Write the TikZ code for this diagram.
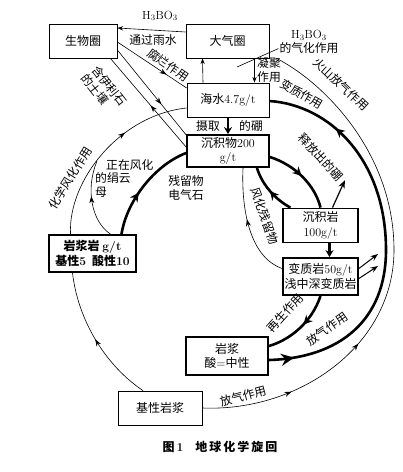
\documentclass[tikz,border=0pt]{standalone}
\usepackage{fontspec}
\newfontfamily\cjk{Noto Sans CJK SC}
\newcommand\lm[1]{{\rmfamily #1}}
\usetikzlibrary{arrows.meta,decorations.markings,calc}
\tikzset{
  >={Stealth},
  box/.style={draw, line width=0.8pt, align=center, font=\cjk\fontsize{12}{14.5}\selectfont,
              minimum width=#1, minimum height=34pt, inner sep=1pt},
  box/.default=80pt,
  rock/.style={box=#1, line width=1.8pt},
  flow/.style={line width=0.6pt},
  heavy/.style={line width=2.6pt},
  midarrow/.style={postaction={decorate, decoration={markings,
              mark=at position #1 with {\arrow{Stealth[length=7pt,width=5pt]}}}}},
  heavyarrow/.style={postaction={decorate, decoration={markings,
              mark=at position #1 with {\arrow{Stealth[length=9pt,width=9pt]}}}}},
  bigarrow/.style={postaction={decorate, decoration={markings,
              mark=at position #1 with {\arrow{Stealth[length=13pt,width=12pt]}}}}},
  lab/.style={font=\cjk\fontsize{11.8}{13.5}\selectfont, inner sep=1pt, align=center}
}
\begin{document}
\begin{tikzpicture}[x=1pt, y=1pt]
\useasboundingbox (0,0) rectangle (403,-472);
% top row: spheres
\node[box=68pt] (bio) at (83,-41) {生物圈};
\node[box=83pt] (atm) at (227.5,-41) {大气圈};
\node[box=82pt] (sea) at (228,-100) {海水\lm{4.7g/t}};
% middle: sediments and rocks
\node[rock=82pt, minimum height=32pt] (sed) at (228,-151) {沉积物\lm{200}\\\lm{g/t}};
\node[rock=75pt] (srock) at (320.5,-225.5) {沉积岩\\\lm{100g/t}};
\node[rock=75pt, minimum height=37pt] (meta) at (320.5,-276.5) {变质岩\lm{50g/t}\\浅中深变质岩};
\node[rock=87pt, minimum height=37pt, font=\cjk\bfseries\fontsize{12}{14.5}\selectfont] (ign) at (92.5,-253.5)
  {岩浆岩 \lm{g/t}\\基性\lm{5}\enspace 酸性\lm{10}};
% bottom: magmas
\node[rock=82pt, minimum height=38pt] (magma) at (227,-356) {岩浆\\酸\lm{=}中性};
\node[box=84pt] (basic) at (160,-408) {基性岩浆};
\node[font=\cjk\bfseries\fontsize{12}{14}\selectfont] (caption) at (220,-447) {图\,\lm{1}\quad 地\,球\,化\,学\,旋\,回};
% free ends
\coordinate (micajoin) at (97,-161);
\coordinate (vappoint) at (237,-67);
\coordinate (releasetip) at (345,-180);
\coordinate (metaout1) at (378,-254);
\coordinate (metaout2) at (378,-266);
\coordinate (rim) at (386,-250);
\coordinate (outerrim) at (394,-250);
% spheres
\draw[flow,->] ([yshift=9pt]atm.west) -- ([yshift=13pt]bio.east);
\node[lab] (boric) at (160,-16) {$\mathrm{H_3BO_3}$};
\node[lab] (rain) at (153,-40) {通过雨水};
\draw[flow, midarrow=0.71] ([yshift=-1pt]bio.east) -- ([yshift=12pt]sea.west);
\node[lab, rotate=-35] (decay) at (168,-65) {腐烂作用};
\draw[flow, midarrow=0.63] ([yshift=-9pt]bio.east) -- ([xshift=1pt,yshift=-2pt]sed.north west);
\draw[flow, midarrow=0.47] ([yshift=4pt]sed.west) -- ([xshift=-7pt]bio.south east);
\node[lab, rotate=-52, align=left] (illite) at (104,-90) {含伊利石\\的土壤};
\draw[flow,->] ([xshift=-25pt]sea.north) -- ([xshift=-25pt]atm.south);
\draw[flow,->] ([xshift=27pt]atm.south) -- ([xshift=27pt]atm.south |- sea.north);
\node[lab] (cond) at (269,-70) {凝聚\\作用};
\node[lab] (vap) at (309,-42) {$\mathrm{H_3BO_3}$\\的气化作用};
\draw[flow] ([yshift=6pt]vap.south west) -- (vappoint);
\draw[heavy, -{Stealth[length=7pt,width=8pt]}] (sea) -- (sed);
\node[lab] (take1) at (208,-126) {摄取};
\node[lab] (take2) at (251,-126) {的硼};
% left: weathering of igneous rock
\draw[flow, midarrow=0.5] ([xshift=-17pt]basic.north) .. controls (105,-365) and (78,-320) .. ([xshift=-20pt]ign.south);
\draw[flow, midarrow=0.64] ([xshift=-22pt]ign.north) .. controls (68,-180) and (120,-115) .. ([yshift=-8pt]sea.west);
\node[lab, rotate=58] (chem) at (70,-178) {化学风化作用};
\draw[flow, midarrow=0.55] ([xshift=18pt]ign.north) .. controls (92,-222) and (85,-190) .. (micajoin);
\node[lab, align=left, anchor=north west] (mica) at (94,-158) {\hspace{11pt}正在风化\\的绢云\\母};
\draw[heavy, heavyarrow=0.42] ([xshift=29pt]ign.north) .. controls (127,-200) and (155,-165) .. ([yshift=-2pt]sed.west);
\node[lab] (resid) at (186,-188) {残留物\\电气石};
% right: sediment, metamorphic rock, magma
\draw[heavy, heavyarrow=0.5] ([yshift=-6pt]sed.east) .. controls (295,-165) and (315,-185) .. (srock.north);
\draw[heavy, heavyarrow=0.5] ([xshift=-30pt]srock.north) .. controls (276,-200) and (262,-185) .. ([xshift=29pt]sed.south);
\draw[flow, midarrow=0.55] ([yshift=8pt]meta.west) .. controls (252,-258) and (241,-215) .. ([xshift=15pt]sed.south);
\node[lab, rotate=-70] (weath) at (265,-216) {风化残留物};
\draw[line width=1.2pt, ->] ([xshift=12pt]srock.north) -- (releasetip);
\node[lab, rotate=-47] (release) at (321,-157) {释放出的硼};
\draw[heavy, -{Stealth[length=7pt,width=8pt]}] ([xshift=9pt]srock.south) -- ([xshift=9pt]srock.south |- meta.north);
\draw[line width=1pt, ->] ([yshift=8pt]meta.east) -- (metaout1);
\draw[line width=1pt, ->] ([yshift=-2pt]meta.east) -- (metaout2);
\draw[heavy, heavyarrow=0.45] (meta.south) .. controls (312,-322) and (290,-340) .. ([yshift=10pt]magma.east);
\node[lab, rotate=48] (regen) at (285,-313) {再生作用};
\draw[heavy, bigarrow=0.14] ([yshift=-4pt]magma.east) .. controls (340,-358) and (386,-320) .. (rim);
\draw[heavy, heavyarrow=0.65] (rim) .. controls (386,-160) and (330,-105) .. ([yshift=-1pt]sea.east);
\node[lab, rotate=35] (degas1) at (327,-329) {放气作用};
\node[lab, rotate=-30] (metam) at (302,-94) {变质作用};
% outer rim: degassing of basic magma
\draw[flow, midarrow=0.33, midarrow=0.63] (basic.east) .. controls (300,-412) and (394,-345) .. (outerrim);
\draw[flow] (outerrim) .. controls (394,-150) and (320,-80) .. ([xshift=7pt]atm.south east);
\node[lab, rotate=15] (degas2) at (243,-396) {放气作用};
\node[lab, rotate=-43] (volc) at (341,-84) {火山放气作用};
\end{tikzpicture}
\end{document}
